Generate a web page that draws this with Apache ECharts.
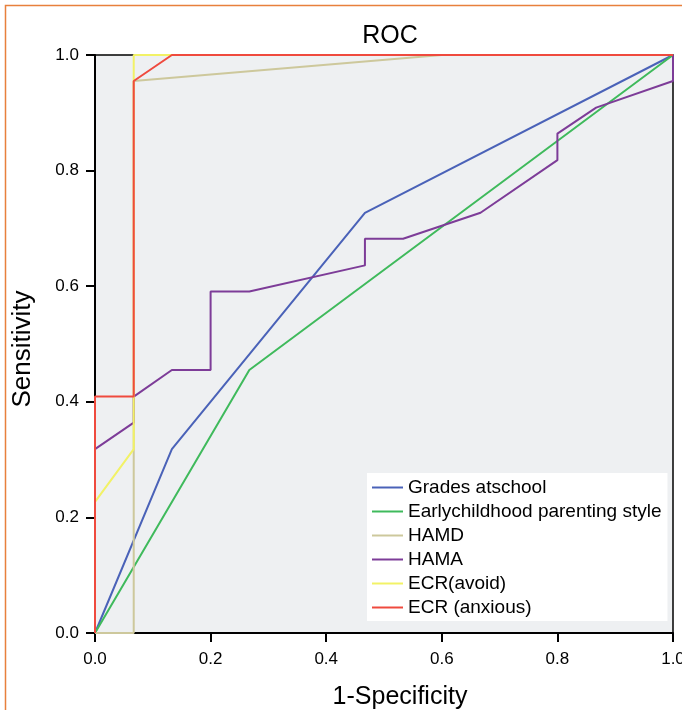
<!DOCTYPE html>
<html>
<head>
<meta charset="utf-8">
<script src="https://cdn.jsdelivr.net/npm/echarts@6/dist/echarts.min.js"></script>
<style>
  html, body { margin: 0; padding: 0; background: #fff; }
  #chart { width: 682px; height: 710px; }
</style>
</head>
<body>
<div id="chart"></div>
<script>
// ROC points: [1-specificity, sensitivity]
const names = ['Grades atschool', 'Earlychildhood parenting style', 'HAMD', 'HAMA', 'ECR(avoid)', 'ECR (anxious)'];
const colors = ['#4a62b8', '#3fba5c', '#cdc89c', '#7d3c98', '#f2f266', '#ef4a3e'];

const grades = [[0, 0], [0.133, 0.318], [0.467, 0.727], [1, 1]];
const parenting = [[0, 0], [0.267, 0.455], [1, 1]];
const hamd = [[0, 0], [0.067, 0], [0.067, 0.955], [0.6, 1], [1, 1]];
const hama = [[0, 0], [0, 0.318], [0.067, 0.364], [0.067, 0.409], [0.133, 0.455], [0.2, 0.455],
  [0.2, 0.591], [0.267, 0.591], [0.467, 0.636], [0.467, 0.682], [0.533, 0.682], [0.667, 0.727],
  [0.8, 0.818], [0.8, 0.864], [0.867, 0.909], [1, 0.955], [1, 1]];
const ecrAvoid = [[0, 0], [0, 0.227], [0.067, 0.318], [0.067, 1], [1, 1]];
const ecrAnxious = [[0, 0], [0, 0.409], [0.067, 0.409], [0.067, 0.955], [0.133, 1], [1, 1]];
const seriesData = [grades, parenting, hamd, hama, ecrAvoid, ecrAnxious];

const font = 'Liberation Sans, Arial, sans-serif';

const chart = echarts.init(document.getElementById('chart'));

const axisCommon = {
  type: 'value',
  min: 0,
  max: 1,
  interval: 0.2,
  axisLine: { show: true, lineStyle: { color: '#000', width: 2 } },
  axisTick: { show: true, inside: false, length: 9, lineStyle: { color: '#000', width: 2 } },
  axisLabel: {
    color: '#000',
    fontSize: 17,
    fontFamily: font,
    formatter: v => v.toFixed(1)
  },
  splitLine: { show: false }
};

chart.setOption({
  animation: false,
  title: {
    text: 'ROC',
    left: 385,
    top: 19,
    textAlign: 'center',
    textStyle: { fontSize: 25, fontWeight: 'normal', color: '#000', fontFamily: font }
  },
  grid: {
    left: 95, right: 9, top: 55, bottom: 77,
    outerBoundsMode: 'none',
    containLabel: false,
    show: true,
    backgroundColor: '#eef0f2',
    borderColor: '#000',
    borderWidth: 1.5
  },
  xAxis: Object.assign({}, axisCommon, { axisLabel: Object.assign({}, axisCommon.axisLabel, { margin: 18 }) }),
  yAxis: Object.assign({}, axisCommon, { axisLabel: Object.assign({}, axisCommon.axisLabel, { margin: 16 }) }),
  legend: {
    left: 367,
    top: 473,
    orient: 'vertical',
    backgroundColor: '#fff',
    padding: [5, 6, 4, 5],
    itemWidth: 31,
    itemHeight: 2,
    itemGap: 5,
    itemTextGap: 6,
    icon: 'rect',
    textStyle: { fontSize: 19, lineHeight: 19, color: '#000', fontFamily: font },
    data: names
  },
  graphic: [
    {
      type: 'rect',
      shape: { x: 5.5, y: 5.5, width: 720, height: 720 },
      style: { fill: 'none', stroke: '#e8803c', lineWidth: 1.5 },
      silent: true
    },
    {
      type: 'text',
      x: 23, y: 349,
      rotation: Math.PI / 2,
      style: {
        text: 'Sensitivity',
        fontSize: 26,
        fontFamily: font,
        fill: '#000',
        align: 'center',
        verticalAlign: 'middle'
      }
    },
    {
      type: 'text',
      x: 400, y: 697,
      style: {
        text: '1-Specificity',
        fontSize: 25,
        fontFamily: font,
        fill: '#000',
        align: 'center',
        verticalAlign: 'middle'
      }
    }
  ],
  series: seriesData.map((d, i) => ({
    name: names[i],
    type: 'line',
    data: d,
    symbol: 'none',
    clip: false,
    color: colors[i],
    lineStyle: { width: 2, color: colors[i] }
  }))
});
</script>
</body>
</html>
